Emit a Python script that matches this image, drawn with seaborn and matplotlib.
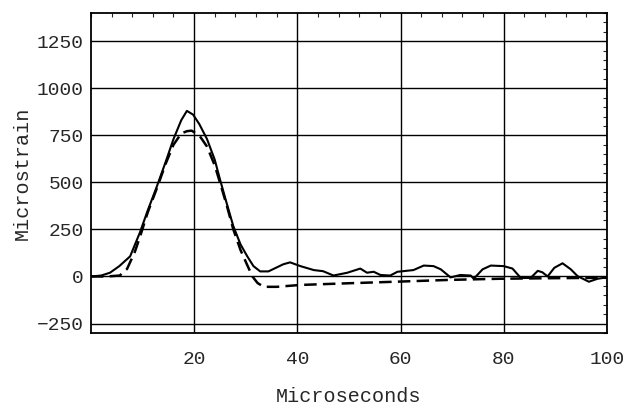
import numpy as np
import pandas as pd
import seaborn as sns
import matplotlib.pyplot as plt
from matplotlib.ticker import MultipleLocator

time_measured = [0, 2, 3.7, 5.5, 7.6, 9.5, 11, 12.8, 14.5, 16, 17.5, 18.6, 19.8, 21, 22.5,
                 24, 25, 26.3, 27.6, 29, 30.3, 31.5, 32.8, 34.4, 36, 37.3, 38.6, 40.6,
                 43.2, 45, 47, 49.7, 52.2, 53.5, 54.8, 56.1, 58, 59.4, 62.5, 64.5, 66.4,
                 67.8, 69.7, 71.6, 73.6, 74.2, 75.9, 77.5, 80, 81.7, 83.3, 85.2, 86.6,
                 87.5, 88.5, 89.8, 91.4, 93, 94.3, 96.5, 98.2, 100]
strain_measured = [0, 5, 20, 55, 107, 234, 350, 480, 610, 730, 830, 880, 860, 810, 730,
                   620, 517, 390, 267, 170, 107, 55, 27, 27, 48, 65, 75, 55,
                   34, 28, 5, 20, 42, 20, 25, 8, 5, 25, 34, 58, 55,
                   38, -5, 8, 5, -12, 38, 58, 55, 42, -8, -8, 30,
                   22, 0, 46, 70, 38, 2, -28, -12, -5]

# Model prediction (dashed)
time_model = [0, 3, 5.6, 7, 8.5, 9.5, 11, 12.8, 14.5, 16, 17.5, 18.6, 19.5, 21, 22.5,
              24, 25, 26.3, 27.6, 29, 30.3, 31.3, 32.3, 33.5, 36, 40.6, 50, 60, 69.7,
              79.4, 90, 100]
strain_model = [0, 0, 5, 40, 130, 210, 340, 470, 600, 700, 760, 772, 775, 750, 690,
                590, 500, 380, 250, 140, 60, 0, -35, -55, -55, -45, -36, -27, -18,
                -12, -9, -7]

df_measured = pd.DataFrame({'t': time_measured, 'strain': strain_measured})
df_model = pd.DataFrame({'t': time_model, 'strain': strain_model})

sns.set_style('white')
plt.rcParams['font.family'] = ['Liberation Mono', 'DejaVu Sans Mono']

fig = plt.figure(figsize=(6.27, 4.07), dpi=100)
ax = fig.add_axes([0.145, 0.182, 0.823, 0.786])

sns.lineplot(data=df_measured, x='t', y='strain', ax=ax, color='black', linewidth=1.5)
sns.lineplot(data=df_model, x='t', y='strain', ax=ax, color='black', linewidth=1.8,
             linestyle=(0, (5, 2.5)))

ax.set_xlim(0, 100)
ax.set_ylim(-300, 1400)
ax.set_xticks([20, 40, 60, 80, 100])
ax.set_yticks([-250, 0, 250, 500, 750, 1000, 1250])
ax.xaxis.set_minor_locator(MultipleLocator(4))
ax.yaxis.set_minor_locator(MultipleLocator(50))
ax.grid(True, which='major', color='black', linewidth=1.0)
ax.tick_params(which='both', direction='in', top=True, right=True, labelsize=14)
ax.tick_params(axis='x', which='major', length=0, pad=13)
ax.tick_params(axis='y', which='major', length=0, pad=5)
ax.tick_params(which='minor', length=3, width=0.8)
for s in ax.spines.values():
    s.set_color('black')
    s.set_linewidth(1.3)

ax.set_xlabel('Microseconds', fontsize=14.5, labelpad=14)
ax.set_ylabel('Microstrain', fontsize=14.5, labelpad=4)

fig.savefig('out.png', dpi=100)
